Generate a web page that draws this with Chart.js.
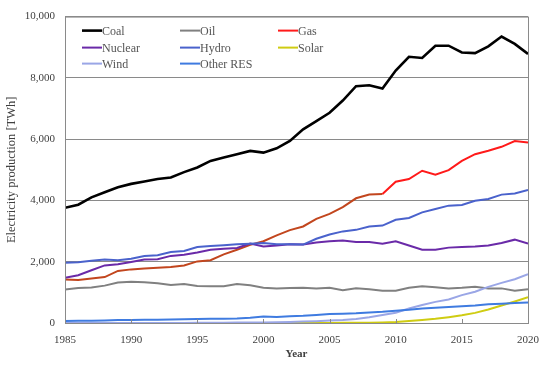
<!DOCTYPE html>
<html>
<head>
<meta charset="utf-8">
<script src="https://cdn.jsdelivr.net/npm/chart.js@4.4.1/dist/chart.umd.min.js"></script>
<style>
html,body{margin:0;padding:0;background:#fff;}
#wrap{width:550px;height:366px;position:relative;}
</style>
</head>
<body>
<div id="wrap"><canvas id="c" width="550" height="366"></canvas></div>
<script>
const years = [];
for (let y = 1985; y <= 2020; y++) years.push(y);

const coal = [3760,3860,4100,4270,4430,4540,4620,4700,4750,4925,
              5075,5290,5400,5510,5617,5560,5700,5940,6320,6590,
              6860,7260,7730,7760,7650,8240,8690,8650,9050,9050,
              8830,8810,9030,9350,9110,8780];
const oil = [1090,1140,1160,1220,1320,1350,1330,1300,1240,1270,
             1210,1200,1200,1270,1230,1150,1130,1140,1150,1130,
             1150,1070,1130,1100,1050,1050,1150,1200,1170,1130,
             1150,1180,1130,1130,1050,1100];
const gas = [1420,1400,1450,1500,1700,1750,1775,1800,1830,1880,
             2010,2050,2240,2390,2550,2670,2860,3030,3150,3400,
             3560,3780,4070,4190,4210,4610,4700,4970,4840,4990,
             5290,5510,5620,5750,5940,5890];
const nuclear = [1480,1560,1720,1880,1920,1990,2070,2080,2190,2230,
                 2300,2390,2420,2450,2590,2500,2530,2570,2560,2630,
                 2670,2690,2640,2640,2590,2670,2530,2390,2390,2460,
                 2480,2500,2530,2610,2720,2590];
const hydro = [1970,1980,2030,2070,2050,2100,2190,2210,2320,2350,
               2480,2510,2540,2570,2590,2610,2570,2570,2560,2750,
               2890,2990,3040,3150,3180,3370,3430,3610,3720,3830,
               3850,3990,4050,4190,4230,4340];
const solar = [0,0,0,0,0,0,0,0,0,0,
               0,0,0,0,1,1,2,2,3,3,
               4,5,7,12,20,32,63,100,135,190,
               250,330,440,570,700,840];
const wind = [0,0,0,0,0,1,2,3,3,4,
              6,7,10,15,18,20,25,35,45,60,
              80,100,130,185,260,335,475,585,690,770,
              910,1020,1180,1310,1430,1590];
const otherRes = [65,70,75,85,95,100,105,110,115,120,
                  130,135,140,150,175,210,195,220,235,260,
                  290,305,320,345,365,400,430,470,500,525,
                  550,575,610,630,655,670];

const seriesNames = ['Coal','Oil','Gas','Nuclear','Hydro','Solar','Wind','Other RES'];
const seriesValues = [coal, oil, gas, nuclear, hydro, solar, wind, otherRes];
const seriesColors = ['#000000','#808080','#ff1a1a','#6a2aa8','#4a62cc','#cfcc12','#9aa6e6','#3f7be0'];
const seriesWidths = [2.6,2,2,2,2,2,2,2];
const yTicks = [0,2000,4000,6000,8000,10000];
const xTicks = [1985,1990,1995,2000,2005,2010,2015,2020];

const FONT = '"Liberation Serif", "Times New Roman", serif';

const datasets = seriesNames.map((n, i) => {
  const ds = {
    label: n,
    data: years.map((yr, k) => ({x: yr, y: seriesValues[i][k]})),
    borderColor: seriesColors[i],
    backgroundColor: seriesColors[i],
    borderWidth: seriesWidths[i],
    pointRadius: 0,
    tension: 0,
    fill: false
  };
  if (n === 'Gas') {
    ds.segment = { borderColor: ctx => ctx.p0.parsed.x < 2009 ? '#c2461e' : '#ff1a1a' };
  }
  return ds;
});
datasets.reverse(); // draw coal on top
const legendOrder = seriesNames.map((n,i)=>({name:n,color:seriesColors[i],width:seriesWidths[i]}));

const extras = {
  id: 'extras',
  afterDatasetsDraw(chart) {
    const {ctx, chartArea: a} = chart;
    const xs = chart.scales.x;
    ctx.save();
    ctx.strokeStyle = '#8a8a8a';
    ctx.lineWidth = 1;
    ctx.strokeRect(a.left + 0.5, a.top + 0.5, a.right - a.left, a.bottom - a.top);
    xTicks.forEach(t => {
      const px = Math.round(xs.getPixelForValue(t)) + 0.5;
      ctx.beginPath();
      ctx.moveTo(px, a.bottom);
      ctx.lineTo(px, a.bottom - 4);
      ctx.stroke();
    });
    const colX = [17, 115, 213];
    const rowY = [14, 31, 47];
    ctx.font = '12px ' + FONT;
    ctx.textBaseline = 'middle';
    ctx.textAlign = 'left';
    legendOrder.forEach((it, i) => {
      const c = i % 3, r = Math.floor(i / 3);
      const x = a.left + colX[c], y = a.top + rowY[r];
      ctx.strokeStyle = it.color;
      ctx.lineWidth = it.width;
      ctx.beginPath();
      ctx.moveTo(x, y);
      ctx.lineTo(x + 20, y);
      ctx.stroke();
      ctx.fillStyle = '#555555';
      ctx.fillText(it.name, x + 20, y + 1);
    });
    ctx.restore();
  }
};

new Chart(document.getElementById('c'), {
  type: 'line',
  data: { datasets },
  options: {
    responsive: false,
    animation: false,
    layout: { padding: { left: 0, right: 21, top: 15, bottom: 0 } },
    plugins: { legend: { display: false }, tooltip: { enabled: false } },
    scales: {
      x: {
        type: 'linear',
        min: 1985, max: 2020,
        afterBuildTicks: s => { s.ticks = xTicks.map(v => ({value: v})); },
        afterFit: s => { s.height = 43; },
        grid: { display: false, drawTicks: false },
        border: { display: true, color: '#8a8a8a' },
        ticks: { padding: 11, color: '#404040', font: { family: FONT, size: 11 }, callback: v => String(v), maxRotation: 0 },
        title: { display: true, text: 'Year', color: '#404040', font: { family: FONT, size: 11, weight: 'bold' }, padding: { top: 0, bottom: 5 } }
      },
      y: {
        min: 0, max: 10000,
        afterBuildTicks: s => { s.ticks = yTicks.map(v => ({value: v})); },
        afterFit: s => { s.width = 65; },
        grid: { color: '#8a8a8a', lineWidth: 1, drawTicks: false },
        border: { display: true, color: '#8a8a8a' },
        ticks: { padding: 10, color: '#404040', font: { family: FONT, size: 11 },
                 callback: v => v.toLocaleString('en-US') },
        title: { display: true, text: 'Electricity production [TWh]', color: '#404040', font: { family: FONT, size: 12.5 }, padding: { top: 4, bottom: 0 } }
      }
    }
  },
  plugins: [extras]
});
</script>
</body>
</html>
